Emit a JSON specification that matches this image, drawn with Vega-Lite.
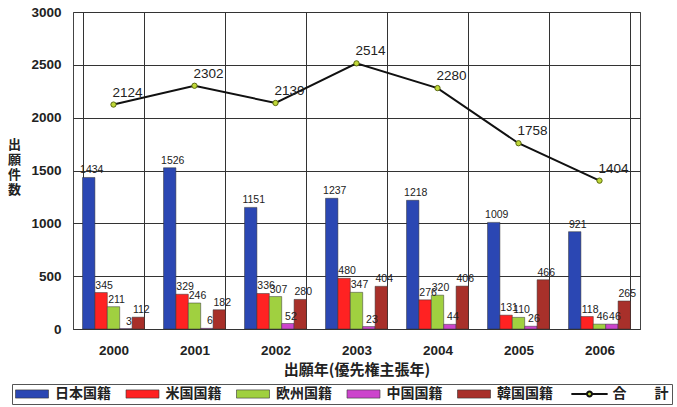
{
  "$schema": "https://vega.github.io/schema/vega-lite/v6.json",
  "width": 567,
  "height": 317,
  "autosize": {"type": "none"},
  "padding": {"left": 73, "top": 12, "right": 37, "bottom": 78},
  "background": "white",
  "config": {
    "view": {"stroke": "#444", "strokeWidth": 1},
    "axis": {"labelFont": "Liberation Sans", "titleFont": "Noto Sans CJK JP", "labelColor": "#222", "titleColor": "#222"}
  },
  "datasets": {
    "bars": [
      {"year": "2000", "origin": "日本国籍", "count": 1434},
      {"year": "2000", "origin": "米国国籍", "count": 345},
      {"year": "2000", "origin": "欧州国籍", "count": 211},
      {"year": "2000", "origin": "中国国籍", "count": 3},
      {"year": "2000", "origin": "韓国国籍", "count": 112},
      {"year": "2001", "origin": "日本国籍", "count": 1526},
      {"year": "2001", "origin": "米国国籍", "count": 329},
      {"year": "2001", "origin": "欧州国籍", "count": 246},
      {"year": "2001", "origin": "中国国籍", "count": 6},
      {"year": "2001", "origin": "韓国国籍", "count": 182},
      {"year": "2002", "origin": "日本国籍", "count": 1151},
      {"year": "2002", "origin": "米国国籍", "count": 336},
      {"year": "2002", "origin": "欧州国籍", "count": 307},
      {"year": "2002", "origin": "中国国籍", "count": 52},
      {"year": "2002", "origin": "韓国国籍", "count": 280},
      {"year": "2003", "origin": "日本国籍", "count": 1237},
      {"year": "2003", "origin": "米国国籍", "count": 480},
      {"year": "2003", "origin": "欧州国籍", "count": 347},
      {"year": "2003", "origin": "中国国籍", "count": 23},
      {"year": "2003", "origin": "韓国国籍", "count": 404},
      {"year": "2004", "origin": "日本国籍", "count": 1218},
      {"year": "2004", "origin": "米国国籍", "count": 276},
      {"year": "2004", "origin": "欧州国籍", "count": 320},
      {"year": "2004", "origin": "中国国籍", "count": 44},
      {"year": "2004", "origin": "韓国国籍", "count": 406},
      {"year": "2005", "origin": "日本国籍", "count": 1009},
      {"year": "2005", "origin": "米国国籍", "count": 131},
      {"year": "2005", "origin": "欧州国籍", "count": 110},
      {"year": "2005", "origin": "中国国籍", "count": 26},
      {"year": "2005", "origin": "韓国国籍", "count": 466},
      {"year": "2006", "origin": "日本国籍", "count": 921},
      {"year": "2006", "origin": "米国国籍", "count": 118},
      {"year": "2006", "origin": "欧州国籍", "count": 46},
      {"year": "2006", "origin": "中国国籍", "count": 46},
      {"year": "2006", "origin": "韓国国籍", "count": 265}
    ],
    "totals": [
      {"year": "2000", "total": 2124},
      {"year": "2001", "total": 2302},
      {"year": "2002", "total": 2139},
      {"year": "2003", "total": 2514},
      {"year": "2004", "total": 2280},
      {"year": "2005", "total": 1758},
      {"year": "2006", "total": 1404}
    ]
  },
  "encoding": {
    "x": {
      "field": "year", "type": "nominal",
      "scale": {"paddingInner": 0.235, "paddingOuter": 0.1175},
      "axis": {
        "title": "出願年(優先権主張年)", "labelAngle": 0, "ticks": false, "tickBand": "extent",
        "grid": true, "gridColor": "#333", "gridWidth": 1, "domainColor": "#333",
        "labelFontSize": 13.5, "labelFontWeight": "bold", "labelPadding": 14,
        "titleFontSize": 15, "titleFontWeight": "bold", "titlePadding": 6
      }
    }
  },
  "layer": [
    {
      "data": {"name": "bars"},
      "mark": {"type": "bar", "stroke": "#333", "strokeWidth": 0.5},
      "encoding": {
        "xOffset": {"field": "origin", "type": "nominal", "scale": {"domain": ["日本国籍", "米国国籍", "欧州国籍", "中国国籍", "韓国国籍"], "paddingInner": 0, "paddingOuter": 0}},
        "y": {
          "field": "count", "type": "quantitative",
          "scale": {"domain": [0, 3000], "nice": false},
          "axis": {
            "values": [0, 500, 1000, 1500, 2000, 2500, 3000], "format": "d",
            "title": ["出", "願", "件", "数"], "titleAngle": 0, "titleX": -59, "titleY": 126,
            "titleAlign": "center", "titleBaseline": "top", "titleLineHeight": 15, "titleFontSize": 13, "titleFontWeight": "bold",
            "ticks": false, "labelPadding": 12, "labelFontSize": 13.5, "labelFontWeight": "bold",
            "grid": true, "gridColor": "#333", "gridWidth": 1, "domain": false
          }
        },
        "color": {
          "field": "origin", "type": "nominal",
          "scale": {
            "domain": ["日本国籍", "米国国籍", "欧州国籍", "中国国籍", "韓国国籍", "合計"],
            "range": ["#2b47b3", "#ff2222", "#a0d040", "#cc44cc", "#a8302a", "#c0d838"]
          },
          "legend": {
            "orient": "none", "legendX": -61, "legendY": 372, "direction": "horizontal", "columns": 6,
            "title": null, "symbolSize": 272, "symbolOffset": 10, "labelOffset": 16, "columnPadding": 13.5,
            "padding": 3, "strokeColor": "#555", "fillColor": "white",
            "symbolType": {"expr": "datum.value == '合計' ? 'M-2.2,0H-0.3M0.3,0H2.2M0.3,0A0.3,0.3 0 1 1 -0.3,0A0.3,0.3 0 1 1 0.3,0' : 'M-2,-0.5H2V0.5H-2Z'"},
            "symbolStrokeColor": {"expr": "datum.value == '合計' ? '#111' : '#333'"},
            "symbolStrokeWidth": {"expr": "datum.value == '合計' ? 2 : 0.6"},
            "symbolOpacity": 1,
            "labelFont": "Noto Sans CJK JP", "labelFontSize": 14, "labelFontWeight": "bold", "labelColor": "#222", "labelLimit": 200,
            "labelExpr": "datum.label == '合計' ? '合　　計' : datum.label"
          }
        }
      }
    },
    {
      "data": {"name": "bars"},
      "mark": {"type": "text", "baseline": "bottom", "dy": -2, "dx": 3, "font": "Liberation Sans", "fontSize": 10.5, "color": "#222"},
      "encoding": {
        "xOffset": {"field": "origin", "type": "nominal", "scale": {"domain": ["日本国籍", "米国国籍", "欧州国籍", "中国国籍", "韓国国籍"]}},
        "y": {"field": "count", "type": "quantitative"},
        "text": {"field": "count", "type": "quantitative"}
      }
    },
    {
      "data": {"name": "totals"},
      "mark": {"type": "line", "strokeWidth": 2, "color": "#111"},
      "encoding": {
        "y": {"field": "total", "type": "quantitative"}
      }
    },
    {
      "data": {"name": "totals"},
      "mark": {"type": "point", "filled": true, "size": 28, "fill": "#c0d838", "stroke": "#5a6a10", "strokeWidth": 1, "opacity": 1},
      "encoding": {
        "y": {"field": "total", "type": "quantitative"}
      }
    },
    {
      "data": {"name": "totals"},
      "mark": {"type": "text", "align": "center", "baseline": "bottom", "dx": 14, "dy": -5, "font": "Liberation Sans", "fontSize": 13.5, "color": "#222"},
      "encoding": {
        "y": {"field": "total", "type": "quantitative"},
        "text": {"field": "total", "type": "quantitative"}
      }
    }
  ]
}
